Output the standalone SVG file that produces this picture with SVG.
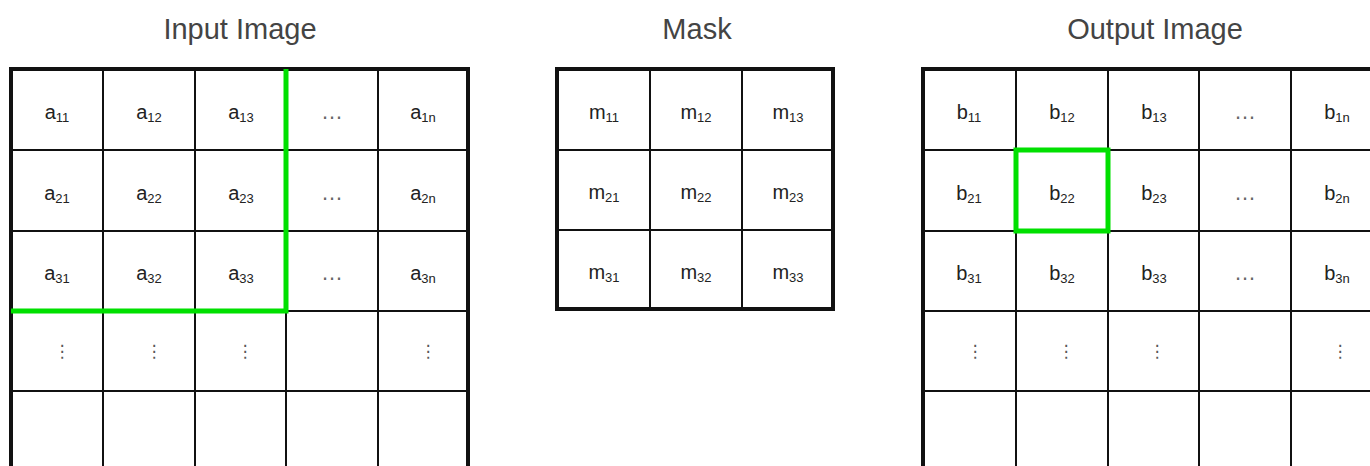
<svg xmlns="http://www.w3.org/2000/svg" width="1370" height="466" viewBox="0 0 1370 466">
<style>
.title{font-family:"Liberation Sans",Arial,sans-serif;font-size:29px;fill:#444;text-anchor:middle}
.lbl{font-family:"Liberation Sans",Arial,sans-serif;font-size:20px;fill:#222;text-anchor:middle}
.sub{font-size:13px}
.dots{font-family:"Liberation Sans",Arial,sans-serif;font-size:22px;fill:#666;text-anchor:middle}
.vdots{font-family:"DejaVu Sans",sans-serif;font-size:17px;fill:#555;text-anchor:middle}
.outer{fill:#fff;stroke:#111;stroke-width:4}
.inner{stroke:#111;stroke-width:2;fill:none}
.hl{stroke:#00e000;stroke-width:5;fill:none}
</style>
<rect width="1370" height="466" fill="#fff"/>

<text class="title" x="240" y="39">Input Image</text>
<text class="title" x="697" y="39">Mask</text>
<text class="title" x="1155" y="39">Output Image</text>

<g id="input-image">
<rect class="outer" x="11" y="69" width="457" height="410"/>
<path class="inner" d="M103 69V466M195 69V466M286 69V466M378 69V466M11 150H468M11 231H468M11 311H468M11 391H468"/>
<text class="lbl" x="57" y="119">a<tspan class="sub" dy="3">11</tspan></text>
<text class="lbl" x="149" y="119">a<tspan class="sub" dy="3">12</tspan></text>
<text class="lbl" x="241" y="119">a<tspan class="sub" dy="3">13</tspan></text>
<text class="dots" x="332" y="119">…</text>
<text class="lbl" x="423" y="119">a<tspan class="sub" dy="3">1n</tspan></text>
<text class="lbl" x="57" y="200">a<tspan class="sub" dy="3">21</tspan></text>
<text class="lbl" x="149" y="200">a<tspan class="sub" dy="3">22</tspan></text>
<text class="lbl" x="241" y="200">a<tspan class="sub" dy="3">23</tspan></text>
<text class="dots" x="332" y="200">…</text>
<text class="lbl" x="423" y="200">a<tspan class="sub" dy="3">2n</tspan></text>
<text class="lbl" x="57" y="280">a<tspan class="sub" dy="3">31</tspan></text>
<text class="lbl" x="149" y="280">a<tspan class="sub" dy="3">32</tspan></text>
<text class="lbl" x="241" y="280">a<tspan class="sub" dy="3">33</tspan></text>
<text class="dots" x="332" y="280">…</text>
<text class="lbl" x="423" y="280">a<tspan class="sub" dy="3">3n</tspan></text>
<text class="vdots" x="62" y="357">⋮</text>
<text class="vdots" x="154" y="357">⋮</text>
<text class="vdots" x="245" y="357">⋮</text>
<text class="vdots" x="428" y="357">⋮</text>
</g>

<g id="input-window">
<path class="hl" d="M286 69V311H11"/>
</g>

<g id="mask">
<rect class="outer" x="557" y="69" width="276" height="240"/>
<path class="inner" d="M650 69V309M742 69V309M557 150H833M557 230H833"/>
<text class="lbl" x="604" y="119">m<tspan class="sub" dy="3">11</tspan></text>
<text class="lbl" x="696" y="119">m<tspan class="sub" dy="3">12</tspan></text>
<text class="lbl" x="788" y="119">m<tspan class="sub" dy="3">13</tspan></text>
<text class="lbl" x="604" y="199">m<tspan class="sub" dy="3">21</tspan></text>
<text class="lbl" x="696" y="199">m<tspan class="sub" dy="3">22</tspan></text>
<text class="lbl" x="788" y="199">m<tspan class="sub" dy="3">23</tspan></text>
<text class="lbl" x="604" y="279">m<tspan class="sub" dy="3">31</tspan></text>
<text class="lbl" x="696" y="279">m<tspan class="sub" dy="3">32</tspan></text>
<text class="lbl" x="788" y="279">m<tspan class="sub" dy="3">33</tspan></text>
</g>

<g id="output-image">
<rect class="outer" x="923" y="69" width="460" height="410"/>
<path class="inner" d="M1016 69V466M1108 69V466M1199 69V466M1291 69V466M923 150H1383M923 231H1383M923 311H1383M923 391H1383"/>
<text class="lbl" x="969" y="119">b<tspan class="sub" dy="3">11</tspan></text>
<text class="lbl" x="1062" y="119">b<tspan class="sub" dy="3">12</tspan></text>
<text class="lbl" x="1154" y="119">b<tspan class="sub" dy="3">13</tspan></text>
<text class="dots" x="1245" y="119">…</text>
<text class="lbl" x="1337" y="119">b<tspan class="sub" dy="3">1n</tspan></text>
<text class="lbl" x="969" y="200">b<tspan class="sub" dy="3">21</tspan></text>
<text class="lbl" x="1062" y="200">b<tspan class="sub" dy="3">22</tspan></text>
<text class="lbl" x="1154" y="200">b<tspan class="sub" dy="3">23</tspan></text>
<text class="dots" x="1245" y="200">…</text>
<text class="lbl" x="1337" y="200">b<tspan class="sub" dy="3">2n</tspan></text>
<text class="lbl" x="969" y="280">b<tspan class="sub" dy="3">31</tspan></text>
<text class="lbl" x="1062" y="280">b<tspan class="sub" dy="3">32</tspan></text>
<text class="lbl" x="1154" y="280">b<tspan class="sub" dy="3">33</tspan></text>
<text class="dots" x="1245" y="280">…</text>
<text class="lbl" x="1337" y="280">b<tspan class="sub" dy="3">3n</tspan></text>
<text class="vdots" x="975" y="357">⋮</text>
<text class="vdots" x="1066" y="357">⋮</text>
<text class="vdots" x="1157" y="357">⋮</text>
<text class="vdots" x="1340" y="357">⋮</text>
</g>

<g id="output-cell">
<rect class="hl" x="1016" y="150" width="92" height="81"/>
</g>
</svg>
